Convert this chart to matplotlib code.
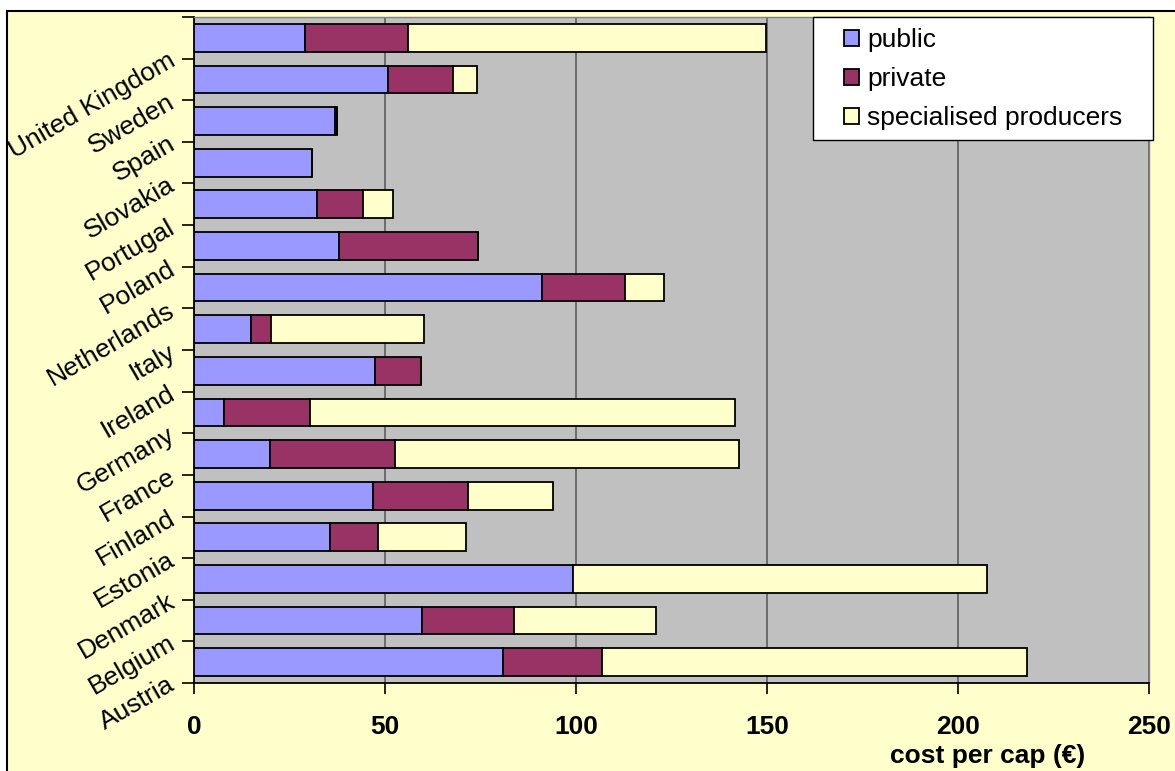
import matplotlib
matplotlib.use("Agg")
import matplotlib.pyplot as plt
from matplotlib.patches import Rectangle
import numpy as np

countries = ["Austria", "Belgium", "Denmark", "Estonia", "Finland", "France",
             "Germany", "Ireland", "Italy", "Netherlands", "Poland", "Portugal",
             "Slovakia", "Spain", "Sweden", "United Kingdom"]
public = [81.0, 59.7, 99.1, 35.7, 46.8, 19.9, 7.9, 47.3, 14.9, 91.1, 38.0, 32.1,
          31.0, 37.0, 50.8, 29.0]
private = [25.8, 24.0, 0.0, 12.5, 24.8, 32.7, 22.5, 12.1, 5.3, 21.8, 36.4, 12.1,
           0.0, 0.5, 16.9, 27.1]
specialised = [111.2, 37.3, 108.4, 23.1, 22.3, 90.2, 111.1, 0.0, 40.0, 10.2, 0.0,
               8.0, 0.0, 0.0, 6.3, 93.6]
series_names = ["public", "private", "specialised producers"]
x_ticks = [0, 50, 100, 150, 200, 250]
x_label = "cost per cap (€)"

colors = ["#9999FF", "#993366", "#FFFFCC"]

plt.rcParams['font.family'] = ['Liberation Sans', 'DejaVu Sans']

W, H = 1175, 771
fig = plt.figure(figsize=(W / 100, H / 100), dpi=100, facecolor="white")

# chart area background with border
fig.patches.append(Rectangle((7 / W, -0.05), 1.2, 1 - 11 / H + 0.05,
                             transform=fig.transFigure, facecolor="#FFFFCC",
                             edgecolor="black", linewidth=1.5, zorder=-10))

ax = fig.add_axes([194 / W, 1 - 683 / H, (1149 - 194) / W, (683 - 17) / H])
ax.set_zorder(1)
ax.set_facecolor("#C0C0C0")

y = np.arange(len(countries))
left = np.zeros(len(countries))
handles = []
for vals, col, name in zip([public, private, specialised], colors, series_names):
    v = np.array(vals)
    b = ax.barh(y, v, left=left, height=0.667, color=col, edgecolor="black",
                linewidth=1.3, label=name, zorder=3)
    handles.append(b)
    left = left + v

ax.set_xlim(0, 250)
ax.set_ylim(-0.5, len(countries) - 0.5)
ax.set_xticks(x_ticks)
ax.set_xticklabels([str(t) for t in x_ticks], fontsize=19, fontweight="bold")
ax.xaxis.grid(True, color="#555555", linewidth=1.1, zorder=1)
ax.set_axisbelow(True)

bounds = np.arange(-0.5, len(countries), 1.0)
ax.set_yticks(bounds)
ax.set_yticklabels(countries + [""], fontsize=19)
for lab in ax.get_yticklabels():
    lab.set_rotation(30)
    lab.set_rotation_mode("anchor")
    lab.set_ha("right")
    lab.set_va("center")

ax.tick_params(axis="y", length=9, width=1.2, pad=6, direction="out")
ax.tick_params(axis="x", length=8, width=1.2, pad=15, direction="out")

for s in ["left", "bottom"]:
    ax.spines[s].set_color("black")
    ax.spines[s].set_linewidth(1.3)
for s in ["top", "right"]:
    ax.spines[s].set_color("#808080")
    ax.spines[s].set_linewidth(1.0)

fig.text(1085 / W, 1 - 756 / H, x_label, ha="right", va="center",
         fontsize=19, fontweight="bold")

# legend frame drawn explicitly
fig.patches.append(Rectangle((813 / W, 1 - 140 / H), (1153 - 813) / W, (140 - 17) / H,
                             transform=fig.transFigure, facecolor="white",
                             edgecolor="black", linewidth=1.0, zorder=5))
leg = fig.legend(handles=handles, labels=series_names, loc="upper left",
                 bbox_to_anchor=(844 / W, 1 - 28 / H), fontsize=19,
                 frameon=False, handlelength=0.57, handleheight=0.57,
                 handletextpad=0.3, labelspacing=0.57, borderpad=0,
                 borderaxespad=0)
leg.set_zorder(6)

fig.savefig("out.png", dpi=100, facecolor=fig.get_facecolor())
